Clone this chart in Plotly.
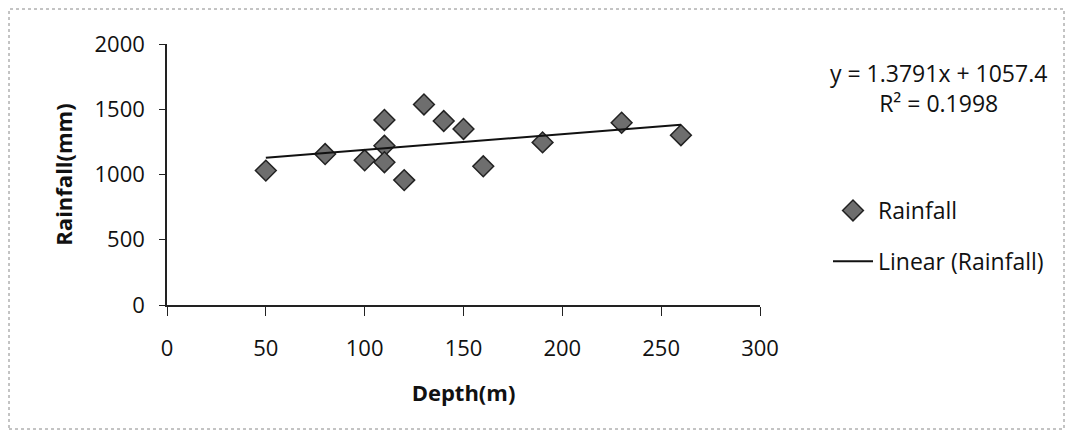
import numpy as np
import plotly.graph_objects as go

depth = [50, 80, 100, 110, 110, 110, 120, 130, 140, 150, 160, 190, 230, 260]
rainfall = [1030, 1157, 1109, 1418, 1220, 1094, 957, 1537, 1410, 1349, 1063, 1246, 1397, 1301]
x_ticks = [0, 50, 100, 150, 200, 250, 300]
y_ticks = [0, 500, 1000, 1500, 2000]
equation_text = "y = 1.3791x + 1057.4<br>R² = 0.1998"

slope, intercept = np.polyfit(depth, rainfall, 1)
fit_x = [min(depth), max(depth)]
fit_y = [slope * v + intercept for v in fit_x]

FONT = "Open Sans"
W, H = 1058, 425
L, R, T, B = 159, 306, 36, 128
pw, ph = W - L - R, H - T - B

def px_x(p):
    return (p - L) / pw

def px_y(p):
    return (H - B - p) / ph

fig = go.Figure()
fig.add_trace(go.Scatter(
    x=depth, y=rainfall, mode="markers", name="Rainfall", legendgroup="a",
    marker=dict(symbol="diamond", size=16, color="#6e6e6e",
                line=dict(color="#222222", width=1.5)),
))
fig.add_trace(go.Scatter(
    x=fit_x, y=fit_y, mode="lines", name="Linear (Rainfall)", legendgroup="b",
    line=dict(color="#111111", width=2),
))

fig.update_layout(
    width=W, height=H,
    margin=dict(l=L, r=R, t=T, b=B),
    paper_bgcolor="white", plot_bgcolor="white",
    font=dict(family=FONT, size=22, color="#111111"),
    showlegend=True,
    legend=dict(x=px_x(820), y=px_y(181), xanchor="left", yanchor="top",
                tracegroupgap=18, font=dict(size=23, family=FONT),
                bgcolor="rgba(0,0,0,0)", itemwidth=40),
    xaxis=dict(range=[0, 300], tickvals=x_ticks, showline=True, linecolor="#222",
               linewidth=1.5, ticks="outside", ticklen=9, tickcolor="#222",
               showgrid=False, zeroline=False, ticklabelstandoff=14,
               tickfont=dict(size=22),
               title=dict(text="<b>Depth(m)</b>", font=dict(size=22), standoff=24)),
    yaxis=dict(range=[0, 2000], tickvals=y_ticks, showline=True, linecolor="#222",
               linewidth=1.5, ticks="outside", ticklen=6, tickcolor="#222",
               showgrid=False, zeroline=False, ticklabelstandoff=10,
               tickfont=dict(size=22),
               title=dict(text="<b>Rainfall(mm)</b>", font=dict(size=22), standoff=16)),
    annotations=[dict(
        text=equation_text, xref="paper", yref="paper",
        x=px_x(930), y=px_y(80), xanchor="center", yanchor="middle",
        showarrow=False, align="center", font=dict(size=23, family=FONT),
    )],
    shapes=[dict(type="rect", xref="paper", yref="paper",
                 x0=px_x(1), x1=px_x(1056), y0=px_y(421), y1=px_y(1),
                 line=dict(color="#888", width=1, dash="dot"))],
)

fig.write_html("out.html")
